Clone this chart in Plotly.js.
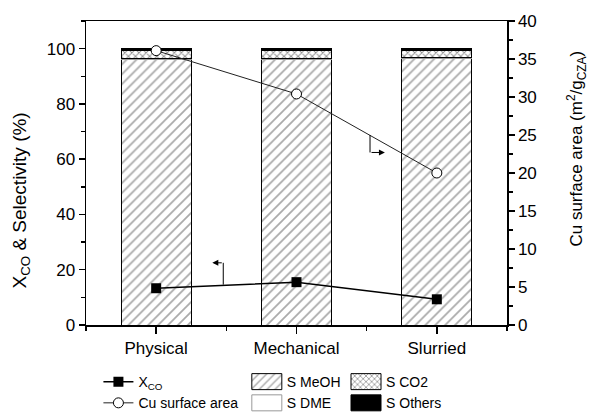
<!DOCTYPE html>
<html>
<head>
<meta charset="utf-8">
<script src="https://cdn.plot.ly/plotly-3.0.1.min.js"></script>
<style>
  html, body { margin: 0; padding: 0; background: #fff; }
  #chart { width: 590px; height: 412px; }
</style>
</head>
<body>
<div id="chart"></div>
<script>
// Catalyst preparation methods
const categories = ['Physical', 'Mechanical', 'Slurried'];

// Product selectivities (%), stacked bars on the left axis
const sMeOH   = [95.9, 95.9, 96.6];
const sDME    = [0.6, 0.6, 0.1];
const sCO2    = [2.8, 2.8, 2.6];
const sOthers = [0.7, 0.7, 0.7];

// CO conversion (%), left axis
const xCO = [13.3, 15.5, 9.3];

// Cu surface area (m2/g_CZA), right axis
const cuArea = [36.1, 30.4, 20.0];

// Axis ticks
const leftTicks  = [0, 20, 40, 60, 80, 100];
const rightTicks = [0, 5, 10, 15, 20, 25, 30, 35, 40];

// Axis titles
const leftTitle  = 'X<sub>CO</sub> & Selectivity (%)';
const rightTitle = 'Cu surface area (m<sup>2</sup>/g<sub>CZA</sub>)';

// Axis-pointer callouts: x of vertical stem, its top/bottom, x of arrow tip
const pointerLeft  = {x: 0.478, yTop: 22.5, yBottom: 14.6, tip: 0.40};
const pointerRight = {x: 1.524, yTop: 25.0, yBottom: 22.7, tip: 1.63};

const idx = categories.map((c, i) => i);
const font = 'Liberation Sans, Arial, sans-serif';

const barLine = {color: '#000', width: 1};

const lineX = {
  type: 'scatter', mode: 'lines+markers', name: 'X<sub>CO</sub>',
  x: idx, y: xCO, yaxis: 'y',
  line: {color: '#000', width: 1.5},
  marker: {symbol: 'square', size: 10, color: '#000'},
  legend: 'legend', cliponaxis: false
};
const lineCu = {
  type: 'scatter', mode: 'lines+markers', name: 'Cu surface area',
  x: idx, y: cuArea, yaxis: 'y2',
  line: {color: '#222', width: 1},
  marker: {symbol: 'circle', size: 10, color: '#fff', line: {color: '#000', width: 1}},
  legend: 'legend', cliponaxis: false
};
const barMeOH = {
  type: 'bar', name: 'S MeOH', x: idx, y: sMeOH, width: 0.5,
  marker: {color: '#fff', line: barLine,
    pattern: {shape: '/', size: 7, solidity: 0.25, fgcolor: '#555', bgcolor: '#fff', fillmode: 'overlay'}},
  legend: 'legend2'
};
const barDME = {
  type: 'bar', name: 'S DME', x: idx, y: sDME, width: 0.5,
  marker: {color: '#fff', line: {color: '#999', width: 1}},
  legend: 'legend2'
};
const barCO2 = {
  type: 'bar', name: 'S CO2', x: idx, y: sCO2, width: 0.5,
  marker: {color: '#fff', line: barLine,
    pattern: {shape: 'x', size: 5, solidity: 0.35, fgcolor: '#222', bgcolor: '#fff', fillmode: 'overlay'}},
  legend: 'legend3'
};
const barOthers = {
  type: 'bar', name: 'S Others', x: idx, y: sOthers, width: 0.5,
  marker: {color: '#000', line: barLine},
  legend: 'legend3'
};

// Bars first so the two lines are drawn on top
const data = [barMeOH, barDME, barCO2, barOthers, lineX, lineCu];

const legendCommon = {
  orientation: 'v', yanchor: 'top', xanchor: 'left',
  font: {family: font, size: 14, color: '#000'},
  bgcolor: 'rgba(0,0,0,0)', borderwidth: 0, tracegroupgap: 0,
  traceorder: 'normal', itemwidth: 30
};

const tickFont = {family: font, size: 17, color: '#000'};

const layout = {
  width: 590, height: 412,
  margin: {l: 86, r: 83, t: 21, b: 87, autoexpand: false},
  paper_bgcolor: '#fff', plot_bgcolor: '#fff',
  font: {family: font, size: 15, color: '#000'},
  barmode: 'stack',
  showlegend: true,
  xaxis: {
    type: 'linear', range: [-0.5, 2.5],
    tickvals: idx, ticktext: categories,
    ticks: 'outside', ticklen: 7, tickwidth: 1.5, tickcolor: '#000',
    minor: {tickvals: [-0.5, 0.5, 1.5, 2.5], ticks: 'outside', ticklen: 4, tickwidth: 1.5, tickcolor: '#000'},
    showline: true, linecolor: '#000', linewidth: 1.5, mirror: true,
    showgrid: false, zeroline: false,
    tickfont: tickFont
  },
  yaxis: {
    range: [0, 110], tickvals: leftTicks,
    ticks: 'outside', ticklen: 6, tickwidth: 1.5, tickcolor: '#000',
    minor: {dtick: 10, ticks: 'outside', ticklen: 4, tickwidth: 1.5, tickcolor: '#000'},
    showline: true, linecolor: '#000', linewidth: 1.5,
    showgrid: false, zeroline: false,
    tickfont: tickFont
  },
  yaxis2: {
    overlaying: 'y', side: 'right', range: [0, 40], tickvals: rightTicks,
    ticks: 'outside', ticklen: 6, tickwidth: 1.5, tickcolor: '#000',
    minor: {dtick: 2.5, ticks: 'outside', ticklen: 4, tickwidth: 1.5, tickcolor: '#000'},
    showline: true, linecolor: '#000', linewidth: 1.5,
    showgrid: false, zeroline: false,
    tickfont: tickFont
  },
  legend:  Object.assign({}, legendCommon, {x: 0.0295, y: -0.135}),
  legend2: Object.assign({}, legendCommon, {x: 0.382, y: -0.135}),
  legend3: Object.assign({}, legendCommon, {x: 0.6176, y: -0.135}),
  shapes: [
    {type: 'line', xref: 'x', yref: 'y', x0: pointerLeft.x, x1: pointerLeft.x,
     y0: pointerLeft.yTop, y1: pointerLeft.yBottom, line: {color: '#000', width: 1}},
    {type: 'line', xref: 'x', yref: 'y2', x0: pointerRight.x, x1: pointerRight.x,
     y0: pointerRight.yTop, y1: pointerRight.yBottom, line: {color: '#000', width: 1}}
  ],
  annotations: [
    {xref: 'x', yref: 'y', x: pointerLeft.tip, y: pointerLeft.yTop,
     axref: 'x', ayref: 'y', ax: pointerLeft.x, ay: pointerLeft.yTop,
     text: '', showarrow: true, arrowhead: 2, arrowsize: 1.2, arrowwidth: 1, arrowcolor: '#000'},
    {xref: 'x', yref: 'y2', x: pointerRight.tip, y: pointerRight.yBottom,
     axref: 'x', ayref: 'y2', ax: pointerRight.x, ay: pointerRight.yBottom,
     text: '', showarrow: true, arrowhead: 2, arrowsize: 1.2, arrowwidth: 1, arrowcolor: '#000'},
    // Axis titles, placed beside each axis
    {xref: 'paper', yref: 'paper', x: -0.154, y: 0.41, xanchor: 'center', yanchor: 'middle',
     textangle: -90, showarrow: false, text: leftTitle,
     font: {family: font, size: 19, color: '#000'}},
    {xref: 'paper', yref: 'paper', x: 1.166, y: 0.58, xanchor: 'center', yanchor: 'middle',
     textangle: -90, showarrow: false, text: rightTitle,
     font: {family: font, size: 17, color: '#000'}}
  ]
};

// Turn the small square legend swatches of the bar series into wide rectangles
function widenBarSwatches() {
  document.querySelectorAll('#chart g.legendpoints path').forEach(p => {
    const d = (p.getAttribute('d') || '').replace(/\s/g, '');
    if (d === 'M6,6H-6V-6H6Z') p.setAttribute('d', 'M15,8H-15V-8H15Z');
  });
}

const gd = document.getElementById('chart');
Plotly.newPlot(gd, data, layout, {displayModeBar: false, staticPlot: true})
  .then(() => {
    widenBarSwatches();
    gd.on('plotly_afterplot', widenBarSwatches);
    requestAnimationFrame(widenBarSwatches);
  });
</script>
</body>
</html>
